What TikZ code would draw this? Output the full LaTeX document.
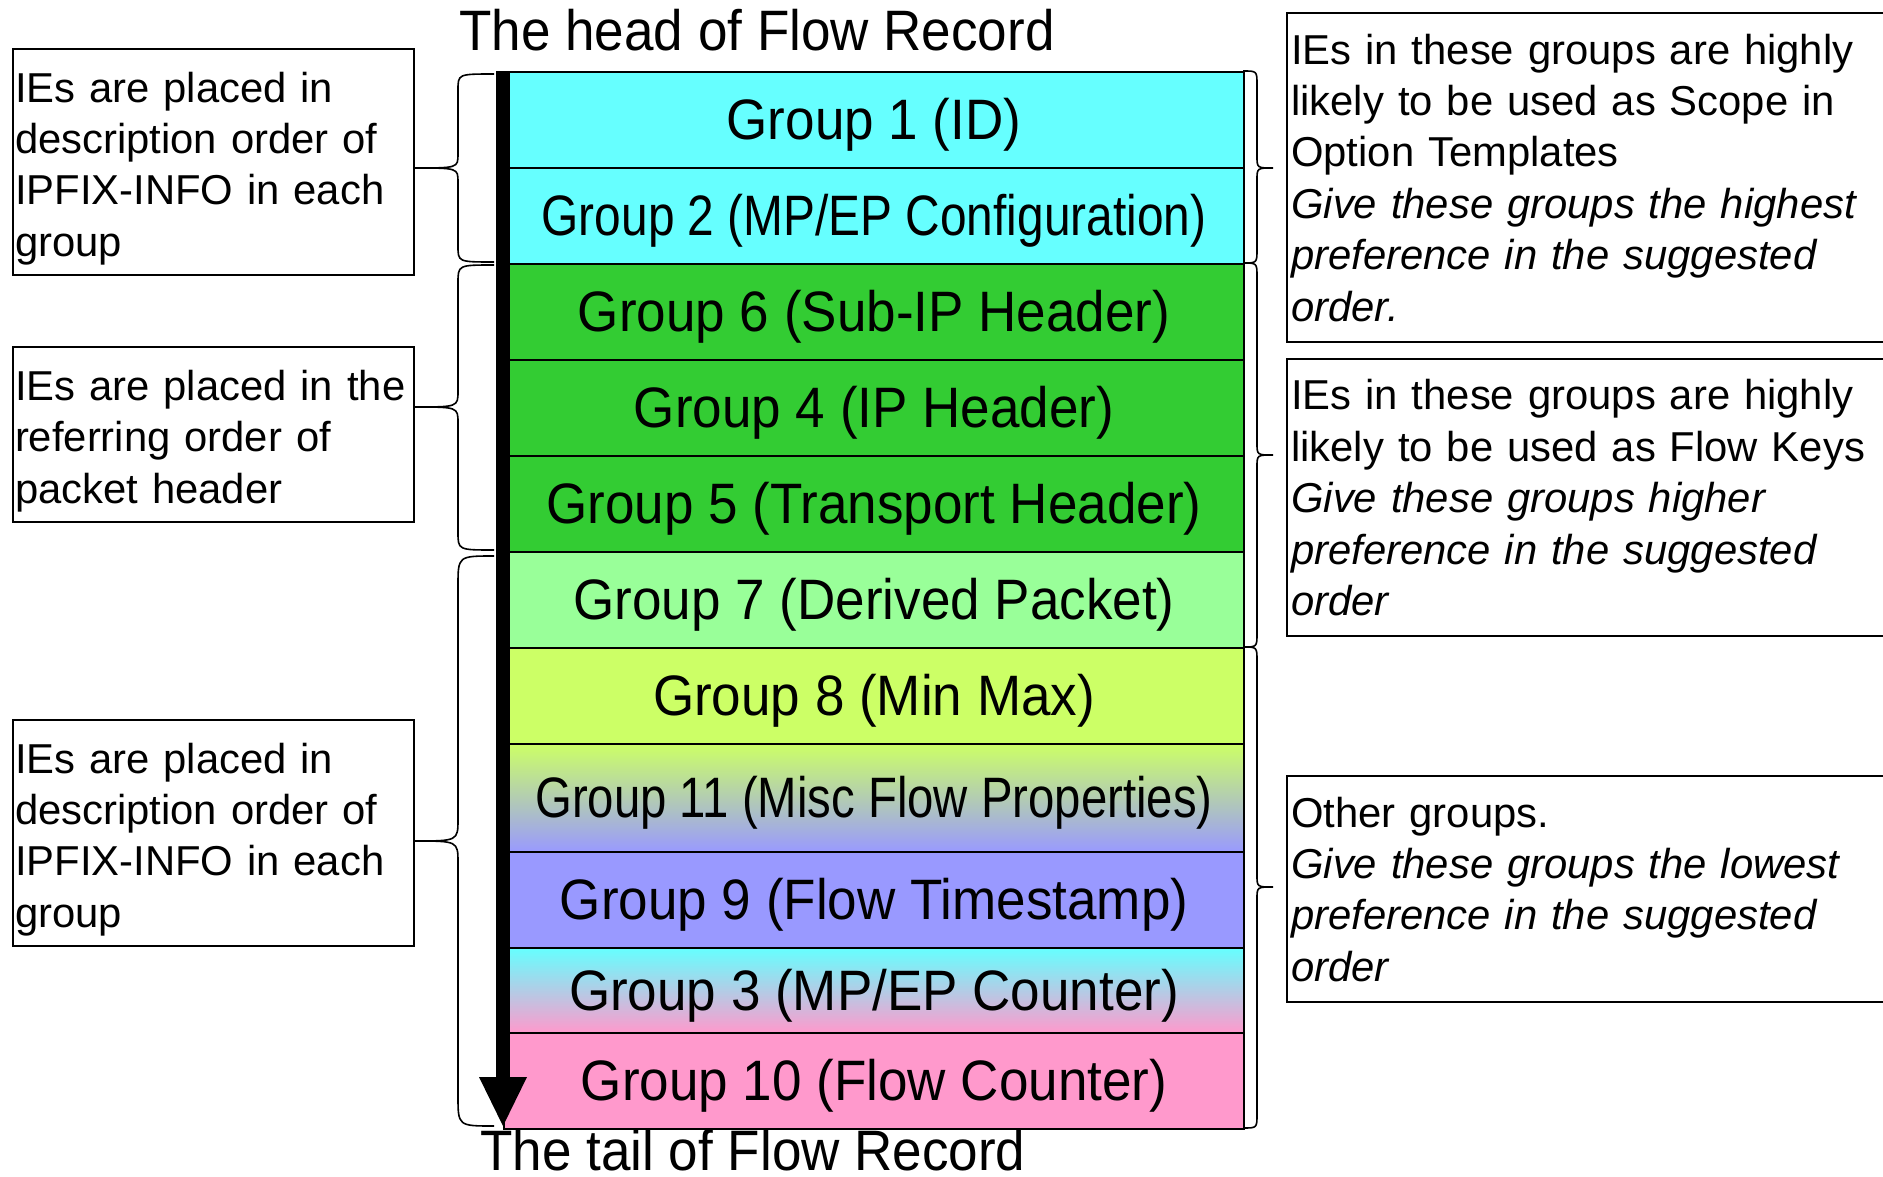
\documentclass[tikz,border=0pt]{standalone}
\usepackage{fontspec}
\setmainfont{Liberation Sans}
\usepackage{graphicx}
\definecolor{cyanC}{HTML}{66FFFF}
\definecolor{greenC}{HTML}{33CC33}
\definecolor{lgreenC}{HTML}{99FF99}
\definecolor{ygreenC}{HTML}{CCFF66}
\definecolor{blueC}{HTML}{9999FF}
\definecolor{pinkC}{HTML}{FF99CC}
\newcommand{\cx}[2]{\raisebox{-5pt}[\height][\depth]{\scalebox{#1}[1]{#2}}}
\newcommand{\firstln}{\rule{0pt}{43pt}}
% #1 x end, #2 y top, #3 y bottom, #4 x vertical, #5 x tip, #6 y mid, #7 end radius, #8 mid radius
\newcommand{\curlybrc}[8]{%
  \draw[brc] (#1,#2) .. controls (#4,#2) .. (#4,{#2+#7}) -- (#4,{#6-#8})
    .. controls (#4,#6) .. (#5,#6) .. controls (#4,#6) .. (#4,{#6+#8})
    -- (#4,{#3-#7}) .. controls (#4,#3) .. (#1,#3);}
\tikzset{
  cell/.style={draw=black, line width=2pt, minimum width=740pt, inner sep=0pt,
    anchor=north west, font=\fontsize{57}{60}\selectfont},
  big/.style={font=\fontsize{57}{60}\selectfont, inner sep=0pt},
  note/.style={draw=black, line width=2pt, anchor=north west, align=left,
    inner xsep=2pt, inner ysep=0pt, font=\fontsize{41.8}{51.4}\selectfont},
  rnote/.style={anchor=north west, align=left, inner xsep=4pt, inner ysep=0pt,
    font=\fontsize{41.8}{51.4}\selectfont},
  boxline/.style={draw=black, line width=2pt},
  brc/.style={draw=black, line width=1.6pt},
}
\begin{document}
\begin{tikzpicture}[x=1pt, y=-1pt]
\useasboundingbox (0,0) rectangle (1883,1177);
\fill[white] (0,0) rectangle (1883,1177);

% titles
\node[big, anchor=base] (head) at (757,51) {\scalebox{0.93}[1]{The head of Flow Record}};
\node[big, anchor=base] (tail) at (753,1170) {\scalebox{0.93}[1]{The tail of Flow Record}};

% group cells
\node[cell, minimum height=96pt, fill=cyanC] (G1) at (503,71) {\cx{0.93}{Group 1 (ID)}};
\node[cell, minimum height=96pt, fill=cyanC] (G2) at (503,167) {\cx{0.839}{Group 2 (MP/EP Configuration)}};
\node[cell, minimum height=96pt, fill=greenC] (G6) at (503,263) {\cx{0.93}{Group 6 (Sub-IP Header)}};
\node[cell, minimum height=96pt, fill=greenC] (G4) at (503,359) {\cx{0.93}{Group 4 (IP Header)}};
\node[cell, minimum height=96pt, fill=greenC] (G5) at (503,455) {\cx{0.93}{Group 5 (Transport Header)}};
\node[cell, minimum height=96pt, fill=lgreenC] (G7) at (503,551) {\cx{0.93}{Group 7 (Derived Packet)}};
\node[cell, minimum height=96pt, fill=ygreenC] (G8) at (503,647) {\cx{0.93}{Group 8 (Min Max)}};
\node[cell, minimum height=108pt, top color=ygreenC, bottom color=blueC] (G11) at (503,743) {\cx{0.83}{Group 11 (Misc Flow Properties)}};
\node[cell, minimum height=96pt, fill=blueC] (G9) at (503,851) {\cx{0.93}{Group 9 (Flow Timestamp)}};
\node[cell, minimum height=85pt, top color=cyanC, bottom color=pinkC] (G3) at (503,947) {\cx{0.93}{Group 3 (MP/EP Counter)}};
\node[cell, minimum height=96pt, fill=pinkC] (G10) at (503,1032) {\cx{0.93}{Group 10 (Flow Counter)}};

% arrow
\fill[black] (496,71) rectangle (510,1079);
\fill[black] (479,1077) -- (527,1077) -- (503,1126) -- cycle;

% left notes
\node[note, text width=397pt, minimum height=226pt] (L1) at (12,48)
  {\firstln IEs are placed in\\description order of\\IPFIX-INFO in each\\group};
\node[note, text width=397pt, minimum height=175pt] (L2) at (12,346)
  {\firstln IEs are placed in the\\referring order of\\packet header};
\node[note, text width=397pt, minimum height=226pt] (L3) at (12,719)
  {\firstln IEs are placed in\\description order of\\IPFIX-INFO in each\\group};

% right notes
\node[rnote, text width=588pt, minimum height=329pt] (R1) at (1287,13)
  {IEs in these groups are highly\\likely to be used as Scope in\\Option Templates\\
   {\itshape Give these groups the highest\\preference in the suggested\\order.}};
\node[rnote, text width=588pt, minimum height=277pt] (R2) at (1287,359)
  {IEs in these groups are highly\\likely to be used as Flow Keys\\
   {\itshape Give these groups higher\\preference in the suggested\\order}};
\node[rnote, text width=588pt, minimum height=226pt] (R3) at (1287,776)
  {Other groups.\\
   {\itshape Give these groups the lowest\\preference in the suggested\\order}};
\foreach \r in {R1,R2,R3}
  \draw[boxline] (\r.north east) -- (\r.north west) -- (\r.south west) -- (\r.south east);

% left braces
\curlybrc{494}{74}{262}{458}{414}{168}{16}{14}
\curlybrc{494}{265}{550}{458}{414}{407}{18}{16}
\curlybrc{494}{556}{1126}{458}{414}{841}{30}{22}

% right braces
\curlybrc{1243}{71}{263}{1257}{1273}{168}{14}{12}
\curlybrc{1243}{263}{647}{1257}{1273}{455}{14}{12}
\curlybrc{1243}{647}{1128}{1257}{1273}{887}{14}{12}
\end{tikzpicture}
\end{document}
